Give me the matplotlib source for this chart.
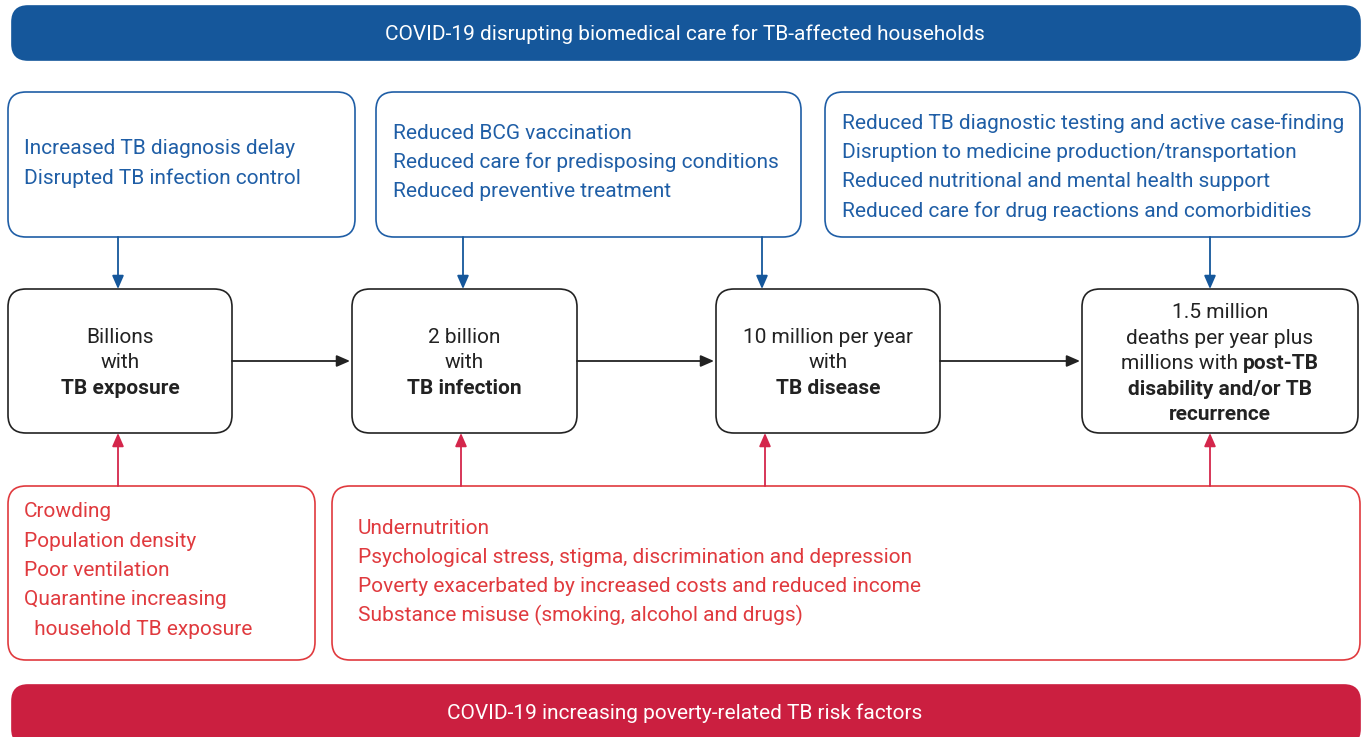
import matplotlib.pyplot as plt
from matplotlib.patches import FancyBboxPatch

# --- text content ---
top_banner = "COVID-19 disrupting biomedical care for TB-affected households"
bottom_banner = "COVID-19 increasing poverty-related TB risk factors"

blue_box1 = ["Increased TB diagnosis delay", "Disrupted TB infection control"]
blue_box2 = ["Reduced BCG vaccination", "Reduced care for predisposing conditions",
             "Reduced preventive treatment"]
blue_box3 = ["Reduced TB diagnostic testing and active case-finding",
             "Disruption to medicine production/transportation",
             "Reduced nutritional and mental health support",
             "Reduced care for drug reactions and comorbidities"]

stage1 = [("Billions", False), ("with", False), ("TB exposure", True)]
stage2 = [("2 billion", False), ("with", False), ("TB infection", True)]
stage3 = [("10 million per year", False), ("with", False), ("TB disease", True)]
stage4 = [("1.5 million", False), ("deaths per year plus", False),
          (("millions with ", "post-TB"), None),
          ("disability and/or TB", True), ("recurrence", True)]

red_box1 = ["Crowding", "Population density", "Poor ventilation",
            "Quarantine increasing", "  household TB exposure"]
red_box2 = ["Undernutrition",
            "Psychological stress, stigma, discrimination and depression",
            "Poverty exacerbated by increased costs and reduced income",
            "Substance misuse (smoking, alcohol and drugs)"]

BLUE = "#15579b"
BLUE_TXT = "#1f5ea6"
RED = "#cb1f40"
RED_TXT = "#e03a3e"
RED_ARROW = "#d4264b"
DARK = "#222222"
FONT = "Roboto"
FS = 15
DY = 1.5  # small nudge so text centres sit like the reference

W, H = 1370, 737
fig = plt.figure(figsize=(W / 100, H / 100), dpi=100)
ax = fig.add_axes([0, 0, 1, 1])
ax.set_xlim(0, W)
ax.set_ylim(H, 0)
ax.axis("off")


def rbox(x0, y0, x1, y1, ec, fc="white", lw=1.2, r=18):
    p = FancyBboxPatch((x0, y0), x1 - x0, y1 - y0,
                       boxstyle=f"round,pad=0,rounding_size={r}",
                       ec=ec, fc=fc, lw=lw, zorder=2)
    ax.add_patch(p)


def arrow(x0, y0, x1, y1, color):
    ax.annotate("", xy=(x1, y1), xytext=(x0, y0),
                arrowprops=dict(arrowstyle="-|>,head_length=0.8,head_width=0.35",
                                color=color, lw=1.3, shrinkA=0, shrinkB=0),
                zorder=3)


def lines_left(x, ys, texts, color):
    for y, t in zip(ys, texts):
        ax.text(x, y + DY, t, color=color, fontsize=FS, family=FONT,
                ha="left", va="center", zorder=4)


# banners
rbox(12, 6, 1360, 60, ec=BLUE, fc=BLUE, r=16)
ax.text(685, 33 + DY, top_banner, color="white", fontsize=FS, family=FONT,
        ha="center", va="center", zorder=4)
rbox(12, 685, 1360, 745, ec=RED, fc=RED, r=16)
ax.text(685, 712 + DY, bottom_banner, color="white", fontsize=FS, family=FONT,
        ha="center", va="center", zorder=4)

# blue boxes
rbox(8, 92, 355, 237, BLUE_TXT)
lines_left(24, [147, 177], blue_box1, BLUE_TXT)
rbox(376, 92, 801, 237, BLUE_TXT)
lines_left(393, [132, 161, 190], blue_box2, BLUE_TXT)
rbox(825, 92, 1360, 237, BLUE_TXT)
lines_left(842, [122, 151, 180, 210], blue_box3, BLUE_TXT)

# blue arrows down
for x in [118, 463, 762, 1210]:
    arrow(x, 237, x, 289, BLUE)

# stage boxes
stages = [(8, 232, stage1, [336, 361, 387]),
          (352, 577, stage2, [336, 361, 387]),
          (716, 940, stage3, [336, 361, 387]),
          (1082, 1358, stage4, [311, 337, 362, 388, 413])]
fig.canvas.draw()
rend = fig.canvas.get_renderer()
for x0, x1, lines, ys in stages:
    rbox(x0, 289, x1, 433, DARK)
    cx = (x0 + x1) / 2
    for (t, bold), y in zip(lines, ys):
        y = y + DY
        if bold is None:
            a = ax.text(0, y, t[0], fontsize=FS, family=FONT, color=DARK,
                        ha="left", va="center", zorder=4)
            b = ax.text(0, y, t[1], fontsize=FS, family=FONT, color=DARK,
                        fontweight="bold", ha="left", va="center", zorder=4)
            wa = a.get_window_extent(rend).width
            wb = b.get_window_extent(rend).width
            start = cx - (wa + wb) / 2
            a.set_x(start)
            b.set_x(start + wa)
        else:
            ax.text(cx, y, t, fontsize=FS, family=FONT, color=DARK,
                    fontweight="bold" if bold else "normal",
                    ha="center", va="center", zorder=4)

# black arrows between stages
for xa, xb in [(232, 350), (577, 714), (940, 1080)]:
    arrow(xa, 361, xb, 361, DARK)

# red arrows up
arrow(118, 486, 118, 433, RED_ARROW)
for x in [461, 765, 1210]:
    arrow(x, 486, x, 433, RED_ARROW)

# red boxes
rbox(8, 486, 315, 660, RED_TXT)
lines_left(24, [510, 540, 569, 598, 628], red_box1, RED_TXT)
rbox(332, 486, 1360, 660, RED_TXT)
lines_left(358, [527, 556, 585, 614], red_box2, RED_TXT)

fig.savefig("out.png", dpi=100)
